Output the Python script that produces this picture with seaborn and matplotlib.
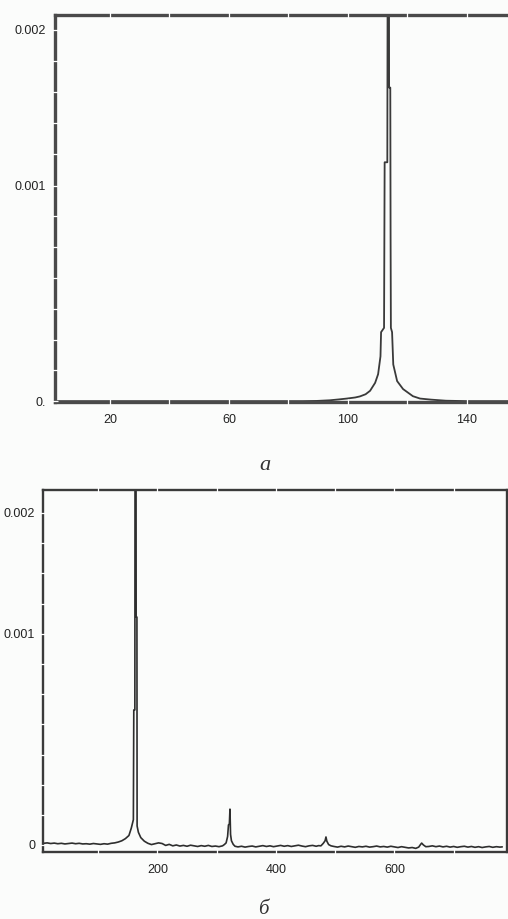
import numpy as np
import pandas as pd
import matplotlib
matplotlib.use("Agg")
import matplotlib.pyplot as plt
import seaborn as sns

sns.set_style("white")
plt.rcParams['font.family'] = ['Liberation Sans', 'DejaVu Sans']

# ---------------- data ----------------
# panel a: spectrum, frequency axis 0..154
top_freq = [1.5, 30, 60, 85, 89.6, 94, 97, 99.7, 102.5, 104.1, 106, 107.5, 109.2,
            110.2, 111.0, 111.2, 112.2, 112.4, 113.3, 113.5, 113.8, 113.9, 114.3,
            114.4, 114.5, 114.9, 115.3, 116.6, 118.6, 121.9, 124.3, 128, 133, 140, 154]
top_amp = [0, 0, 0, 0, 0.000001, 0.000004, 0.000008, 0.000012, 0.000017, 0.000022,
           0.000032, 0.000048, 0.000085, 0.000125, 0.000208, 0.00032, 0.00034,
           0.00115, 0.00115, 0.0035, 0.0035, 0.00163, 0.00163, 0.00076, 0.00034,
           0.00032, 0.00017, 0.000093, 0.000056, 0.000023, 0.000012, 0.000007,
           0.000002, 0, 0]

# panel b: spectrum, frequency axis 7..790 (amplitudes in 1e-6 units)
bot_freq = [8, 14, 20, 26, 32, 38, 44, 50, 56, 62, 68, 74, 80, 86, 92, 98, 104, 110,
            116, 122, 128, 134, 140, 146,
            # main peak
            152, 156, 159.5, 160.2, 162.0, 162.5, 163.8, 164.2, 165.5, 165.8, 168,
            172, 178, 184,
            190, 196, 202, 208, 214, 220, 226, 232, 238, 244, 250, 256, 262, 268,
            274, 280, 286, 292, 298, 304, 310,
            # second harmonic
            313, 316, 318.5, 320, 321.5, 322.5, 323.5, 325, 328,
            331, 336, 342, 348, 354, 360, 366, 372, 378, 384, 390, 396, 402, 408,
            414, 420, 426, 432, 438, 444, 450, 456, 462, 468, 472,
            # third harmonic
            476, 480, 483, 484.5, 486, 489, 493,
            498, 504, 510, 516, 522, 528, 534, 540, 546, 552, 558, 564, 570, 576,
            582, 588, 594, 600, 606, 612, 618, 624, 630,
            # fourth harmonic
            636, 641, 644, 646, 649, 653,
            658, 664, 670, 676, 682, 688, 694, 700, 706, 712, 718, 724, 730, 736,
            742, 748, 754, 760, 766, 772, 778, 782]
bot_amp_u = [8, 10, 7, 9, 6, 8, 5, 7, 9, 6, 8, 5, 6, 4, 7, 5, 3, 6,
             4, 8, 10, 14, 20, 30,
             45, 80, 120, 640, 640, 3500, 3500, 1140, 1140, 90, 60,
             35, 18, 8,
             2, 6, 10, 7, -2, 3, -4, 0, -5, -2, -6, -1, -4, -7,
             -3, -6, -2, -7, -5, -8, -4,
             2, 10, 40, 95, 100, 170, 50, 20, 3,
             -6, -9, -6, -10, -7, -5, -9, -6, -3, -7, -4, -8, -5, -2,
             -6, -3, -7, -4, -1, -5, -8, -4, -2, -6, -3,
             -4, 8, 20, 38, 18, 2, -4,
             -7, -10, -6, -9, -5, -8, -11, -7, -9, -6, -10, -8, -5, -9,
             -7, -10, -6, -9, -12, -8, -11, -14, -12,
             -16, -10, 2, 9, 0, -8,
             -7, -4, -8, -5, -9, -6, -10, -7, -11, -8, -6, -10, -7, -11,
             -8, -12, -9, -7, -11, -8, -10, -9]
bot_amp = [v * 1e-6 for v in bot_amp_u]

top_yticks = [0, 0.001, 0.002]
top_yticklabels = ["0.", "0.001", "0.002"]
top_xticks = [20, 60, 100, 140]
bot_yticks = [0, 0.001, 0.002]
bot_yticklabels = ["0", "0.001", "0.002"]
bot_xticks = [200, 400, 600]
captions = ["а", "б"]

df_top = pd.DataFrame({"f": top_freq, "A": top_amp})
df_bot = pd.DataFrame({"f": bot_freq, "A": bot_amp})

# ---------------- figure ----------------
W, H = 508, 919
fig = plt.figure(figsize=(W / 100, H / 100), dpi=100)
bg = "#fbfcfb"
fig.patch.set_facecolor(bg)


def px_axes(left, top, right, bottom):
    return fig.add_axes([left / W, 1 - bottom / H, (right - left) / W, (bottom - top) / H])


def piecewise_scale(ax, nodes_v, nodes_d):
    v = np.array([-1.0] + nodes_v + [1.0])
    s0 = (nodes_d[1] - nodes_d[0]) / (nodes_v[1] - nodes_v[0])
    s1 = (nodes_d[-1] - nodes_d[-2]) / (nodes_v[-1] - nodes_v[-2])
    d = np.array([nodes_d[0] - (nodes_v[0] + 1) * s0] + nodes_d +
                 [nodes_d[-1] + (1 - nodes_v[-1]) * s1])
    fwd = lambda x: np.interp(x, v, d)
    inv = lambda y: np.interp(y, d, v)
    ax.set_yscale("function", functions=(fwd, inv))


def style(ax, spine_w, spine_c):
    ax.set_facecolor(bg)
    for s in ax.spines.values():
        s.set_linewidth(spine_w)
        s.set_color(spine_c)
        s.set_zorder(2)
    ax.xaxis.set_zorder(3)
    ax.yaxis.set_zorder(3)
    ax.tick_params(which="both", direction="inout", color="white", width=0.9,
                   labelcolor="#222222", labelsize=9, bottom=True, left=True,
                   top=True, right=False, length=5)
    ax.set_xlabel("")
    ax.set_ylabel("")


# ---- panel a ----
ax1 = px_axes(55, 15, 508, 402)
sns.lineplot(data=df_top, x="f", y="A", ax=ax1, color="#3a3a3a", linewidth=1.3,
             estimator=None, sort=False)
piecewise_scale(ax1, [0, 0.001, 0.002], [0, 216, 372])
ax1.set_xlim(1.5, 153.9)
ax1.set_ylim(-0.000004, 0.0020962)
ax1.set_yticks(top_yticks)
ax1.set_yticklabels(top_yticklabels)
ax1.set_yticks(list(np.linspace(0, 0.001, 8)) + list(np.linspace(0.001, 0.002, 6)), minor=True)
ax1.set_xticks(top_xticks)
ax1.set_xticks([40, 80, 120], minor=True)
style(ax1, 2.4, "#4a4a4a")
ax1.spines["right"].set_visible(False)
ax1.tick_params(axis="x", which="both", pad=6)
ax1.tick_params(axis="y", which="both", pad=4)

# ---- panel b ----
ax2 = px_axes(43, 490, 507, 852)
sns.lineplot(data=df_bot, x="f", y="A", ax=ax2, color="#2e2e2e", linewidth=1.2,
             estimator=None, sort=False)
piecewise_scale(ax2, [0, 0.001, 0.002], [0, 211, 332])
ax2.set_xlim(7, 790)
ax2.set_ylim(-0.0000332, 0.00219)
ax2.set_yticks(bot_yticks)
ax2.set_yticklabels(bot_yticklabels)
ax2.set_yticks(list(np.linspace(0, 0.001, 8)) + list(np.linspace(0.001, 0.002, 5)), minor=True)
ax2.set_xticks(bot_xticks)
ax2.set_xticks([100, 300, 500, 700], minor=True)
style(ax2, 1.7, "#3a3a3a")
ax2.tick_params(axis="x", which="both", pad=6)
ax2.tick_params(axis="y", which="both", pad=3)

# captions
fig.text(265 / W, 1 - 466 / H, captions[0], ha="center", va="center",
         fontsize=16, style="italic", family=["Liberation Serif", "DejaVu Serif"],
         color="#333333")
fig.text(263 / W, 1 - 910 / H, captions[1], ha="center", va="center",
         fontsize=15, style="italic", family=["Liberation Serif", "DejaVu Serif"],
         color="#333333")

fig.savefig("out.png", dpi=100, facecolor=bg)
